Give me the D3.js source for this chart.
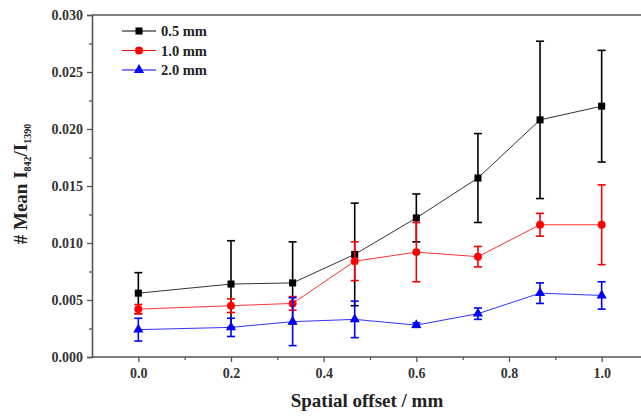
<!DOCTYPE html>
<html>
<head>
<meta charset="utf-8">
<script src="https://cdn.jsdelivr.net/npm/d3@7"></script>
<style>
  body { margin: 0; background: #fff; }
  text { font-family: "Liberation Serif", "Times New Roman", serif; font-weight: bold; }
</style>
</head>
<body>
<div class="chart"></div>
<script>
// spatial offsets (mm)
const offsets = [0, 0.2, 0.333, 0.467, 0.6, 0.733, 0.867, 1.0];

// mean ratio and error per probe size
const mean05 = [0.0056, 0.0064, 0.0065, 0.0090, 0.0122, 0.0157, 0.0208, 0.0220];
const err05  = [0.0018, 0.0038, 0.0036, 0.0045, 0.0021, 0.0039, 0.0069, 0.0049];
const mean10 = [0.0042, 0.0045, 0.0047, 0.0084, 0.0092, 0.0088, 0.0116, 0.0116];
const err10  = [0.0004, 0.0006, 0.0006, 0.0017, 0.0026, 0.0009, 0.0010, 0.0035];
const mean20 = [0.0024, 0.0026, 0.0031, 0.0033, 0.0028, 0.0038, 0.0056, 0.0054];
const err20  = [0.0010, 0.0008, 0.0021, 0.0016, 0.0002, 0.0005, 0.0009, 0.0012];

const seriesNames = ["0.5 mm", "1.0 mm", "2.0 mm"];
const xTicks = [0, 0.2, 0.4, 0.6, 0.8, 1.0];
const yTicks = [0, 0.005, 0.010, 0.015, 0.020, 0.025, 0.030];

const series = [
  {name: seriesNames[0], mean: mean05, err: err05, color: "#000000", symbol: d3.symbolSquare},
  {name: seriesNames[1], mean: mean10, err: err10, color: "#ff0000", symbol: d3.symbolCircle},
  {name: seriesNames[2], mean: mean20, err: err20, color: "#0000ff", symbol: d3.symbolTriangle}
];

const w = 641, h = 416;
const svg = d3.select('.chart').append('svg')
  .attr('width', w).attr('height', h);

const x = d3.scaleLinear().domain([-0.1, 1.1]).range([92, 648]);
const y = d3.scaleLinear().domain([0, 0.030]).range([357, 15]);

const axisColor = "#555";

//frame: top line and left/bottom axes
svg.append("line")
  .attr("x1", x(-0.1)).attr("x2", w).attr("y1", y(0.030)).attr("y2", y(0.030))
  .attr("stroke", axisColor).attr("stroke-width", 1.6);

//minor ticks
const yAxisMinor = d3.axisLeft(y).tickValues(d3.range(0.0025, 0.030, 0.005)).tickSize(3).tickFormat("");
const xAxisMinor = d3.axisBottom(x).tickValues([0.1, 0.3, 0.5, 0.7, 0.9]).tickSize(3).tickFormat("");

const yAxis = d3.axisLeft(y).tickValues(yTicks).tickSize(5).tickPadding(4).tickFormat(d3.format(".3f"));
const xAxis = d3.axisBottom(x).tickValues(xTicks).tickSize(5).tickPadding(6).tickFormat(d3.format(".1f"));

const gy = svg.append("g").attr("transform", `translate(${x(-0.1)},0)`).call(yAxis);
svg.append("g").attr("transform", `translate(${x(-0.1)},0)`).call(yAxisMinor).select(".domain").remove();
const gx = svg.append("g").attr("transform", `translate(0,${y(0)})`).call(xAxis);
svg.append("g").attr("transform", `translate(0,${y(0)})`).call(xAxisMinor).select(".domain").remove();

svg.selectAll(".tick line").attr("stroke", axisColor).attr("stroke-width", 1.3);
gy.select(".domain").attr("stroke", axisColor).attr("stroke-width", 1.6);
gx.select(".domain").attr("stroke", axisColor).attr("stroke-width", 1.6);
gx.select(".domain").attr("d", `M${x(-0.1)},0H${w}`);
svg.selectAll(".tick text")
  .attr("font-size", 14)
  .attr("font-family", "Liberation Serif")
  .attr("font-weight", "bold")
  .attr("fill", "#333");

//axis titles
svg.append("text")
  .attr("x", 367).attr("y", 407)
  .attr("text-anchor", "middle")
  .attr("font-size", 19)
  .attr("fill", "#222")
  .text("Spatial offset / mm");

const yt = svg.append("text")
  .attr("transform", "translate(27,184) rotate(-90)")
  .attr("text-anchor", "middle")
  .attr("font-size", 19)
  .attr("fill", "#222");
yt.append("tspan").text("# Mean I");
yt.append("tspan").attr("font-size", 10).attr("dy", 4).text("842");
yt.append("tspan").attr("dy", -4).text("/I");
yt.append("tspan").attr("font-size", 10).attr("dy", 4).text("1390");

//series
const line = d3.line().x(d => x(d.x)).y(d => y(d.y));

series.forEach(s => {
  const pts = offsets.map((o, i) => ({x: o, y: s.mean[i], e: s.err[i]}));
  const g = svg.append("g");

  g.append("path")
    .datum(pts)
    .attr("d", line)
    .attr("fill", "none")
    .attr("stroke", s.color)
    .attr("stroke-width", 1)
    .attr("opacity", 0.8);

  //error bars
  const eb = g.selectAll(".err")
    .data(pts)
    .enter()
    .append("g")
    .attr("stroke", s.color)
    .attr("stroke-width", 1.6);
  eb.append("line")
    .attr("x1", d => x(d.x)).attr("x2", d => x(d.x))
    .attr("y1", d => y(d.y - d.e)).attr("y2", d => y(d.y + d.e));
  eb.append("line")
    .attr("x1", d => x(d.x) - 4).attr("x2", d => x(d.x) + 4)
    .attr("y1", d => y(d.y + d.e)).attr("y2", d => y(d.y + d.e));
  eb.append("line")
    .attr("x1", d => x(d.x) - 4).attr("x2", d => x(d.x) + 4)
    .attr("y1", d => y(d.y - d.e)).attr("y2", d => y(d.y - d.e));

  g.selectAll(".pt")
    .data(pts)
    .enter()
    .append("path")
    .attr("d", d3.symbol().type(s.symbol).size(s.symbol === d3.symbolTriangle ? 45 : 50))
    .attr("transform", d => `translate(${x(d.x)},${y(d.y)})`)
    .attr("fill", s.color);
});

//legend
series.forEach((s, i) => {
  const ly = 31 + i * 19.5;
  svg.append("line")
    .attr("x1", 122).attr("x2", 156).attr("y1", ly).attr("y2", ly)
    .attr("stroke", s.color).attr("stroke-width", 1);
  svg.append("path")
    .attr("d", d3.symbol().type(s.symbol).size(s.symbol === d3.symbolTriangle ? 45 : 50))
    .attr("transform", `translate(139,${ly})`)
    .attr("fill", s.color);
  svg.append("text")
    .attr("x", 161).attr("y", ly + 5)
    .attr("font-size", 14.5)
    .attr("fill", "#222")
    .text(s.name);
});
</script>
</body>
</html>
